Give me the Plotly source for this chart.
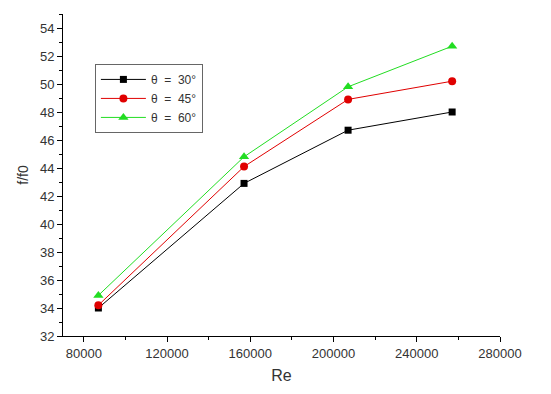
import plotly.graph_objects as go

re_vals = [87000, 157000, 207000, 257000]
f30 = [34.0, 42.9, 46.7, 48.0]
f45 = [34.2, 44.1, 48.9, 50.2]
f60 = [34.9, 44.8, 49.8, 52.7]
names = ["θ  =  30°", "θ  =  45°", "θ  =  60°"]
x_ticks = [80000, 120000, 160000, 200000, 240000, 280000]
y_ticks = [32, 34, 36, 38, 40, 42, 44, 46, 48, 50, 52, 54]

fig = go.Figure()
styles = [("#000000", "square", 7), ("#e00000", "circle", 8), ("#22dd22", "triangle-up", 9)]
for ys, nm, (c, sym, sz) in zip([f30, f45, f60], names, styles):
    fig.add_trace(go.Scatter(x=re_vals, y=ys, name=nm, mode="lines+markers",
                             line=dict(color=c, width=1),
                             marker=dict(color=c, symbol=sym, size=sz)))

# page body adds an 8px offset; figure sized/margined to compensate
fig.update_layout(
    width=535, height=378,
    margin=dict(l=55, r=43, t=6, b=50, autoexpand=False),
    paper_bgcolor="white", plot_bgcolor="white",
    font=dict(family="Liberation Sans, Arial", color="#333", size=13),
    showlegend=True,
    legend=dict(x=0.073, y=0.845, xanchor="left", yanchor="top",
                bordercolor="#666", borderwidth=1, bgcolor="white",
                font=dict(size=12), tracegroupgap=0, itemwidth=45),
    xaxis=dict(range=[70000, 280000], tickvals=x_ticks, ticktext=[str(v) for v in x_ticks],
               showgrid=False, zeroline=False, showline=True, linecolor="black", linewidth=1,
               ticks="outside", ticklen=5, tickcolor="black", automargin=False,
               minor=dict(dtick=20000, tick0=0, ticks="outside", ticklen=3, tickcolor="black"),
               title=dict(text="Re", font=dict(size=16), standoff=10)),
    yaxis=dict(range=[32, 55], tickvals=y_ticks, ticktext=[str(v) for v in y_ticks],
               showgrid=False, zeroline=False, showline=True, linecolor="black", linewidth=1,
               ticks="outside", ticklen=5, tickcolor="black", automargin=False,
               minor=dict(dtick=1, tick0=0, ticks="outside", ticklen=3, tickcolor="black"),
               title=dict(text="f/f0", font=dict(size=14), standoff=8)),
)
fig.write_html("out.html")
